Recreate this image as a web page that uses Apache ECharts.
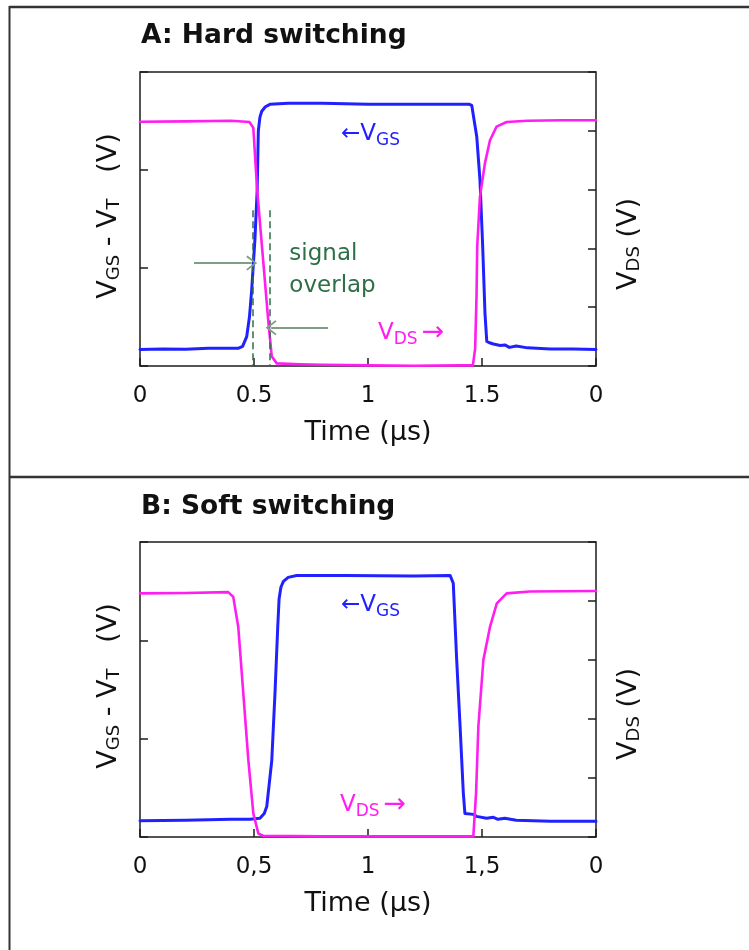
<!DOCTYPE html>
<html><head><meta charset="utf-8">
<script src="https://cdn.jsdelivr.net/npm/echarts@6/dist/echarts.min.js"></script>
<style>html,body{margin:0;padding:0;background:#fff}#c{width:749px;height:950px}</style>
</head><body><div id="c"></div>
<script>
// ---------- data ----------
const tickLabelsA = ['0', '0.5', '1', '1.5', '0'];
const tickLabelsB = ['0', '0,5', '1', '1,5', '0'];
const titleA = 'A: Hard switching';
const titleB = 'B: Soft switching';
const xName = 'Time (µs)';

// Panel A (hard switching)
const hardVgsT = [0, 0.1, 0.2, 0.3, 0.4, 0.43, 0.45, 0.468, 0.48, 0.49, 0.504, 0.514, 0.519, 0.526, 0.534, 0.55, 0.57, 0.65, 0.8, 1.0, 1.2, 1.35, 1.445, 1.455, 1.477, 1.491, 1.503, 1.513, 1.521, 1.53, 1.55, 1.58, 1.6, 1.62, 1.65, 1.7, 1.8, 1.9, 2.0];
const hardVgs  = [0.168, 0.173, 0.17, 0.18, 0.18, 0.18, 0.2, 0.30, 0.5, 0.78, 1.29, 1.80, 2.40, 2.54, 2.6, 2.645, 2.67, 2.68, 2.68, 2.67, 2.67, 2.67, 2.67, 2.66, 2.34, 1.90, 1.22, 0.54, 0.25, 0.24, 0.225, 0.21, 0.215, 0.19, 0.205, 0.185, 0.173, 0.173, 0.168];
const hardVdsT = [0, 0.2, 0.4, 0.48, 0.487, 0.497, 0.514, 0.563, 0.578, 0.6, 0.7, 0.8, 1.0, 1.2, 1.4, 1.46, 1.47, 1.476, 1.479, 1.491, 1.513, 1.535, 1.564, 1.608, 1.7, 1.85, 2.0];
const hardVds  = [4.155, 4.16, 4.17, 4.15, 4.12, 4.05, 2.99, 0.75, 0.16, 0.045, 0.03, 0.02, 0.01, 0.005, 0.01, 0.01, 0.3, 1.2, 2.03, 2.88, 3.45, 3.84, 4.07, 4.15, 4.17, 4.18, 4.18];

// Panel B (soft switching)
const softVgsT = [0, 0.2, 0.4, 0.482, 0.526, 0.545, 0.556, 0.578, 0.592, 0.604, 0.61, 0.618, 0.629, 0.65, 0.687, 0.9, 1.2, 1.36, 1.374, 1.389, 1.404, 1.418, 1.425, 1.462, 1.476, 1.52, 1.55, 1.57, 1.6, 1.65, 1.8, 2.0];
const softVgs  = [0.165, 0.17, 0.18, 0.18, 0.19, 0.24, 0.31, 0.78, 1.46, 2.13, 2.42, 2.54, 2.6, 2.64, 2.66, 2.66, 2.655, 2.66, 2.58, 1.80, 1.12, 0.45, 0.24, 0.23, 0.21, 0.19, 0.2, 0.18, 0.19, 0.17, 0.16, 0.16];
const softVdsT = [0, 0.2, 0.387, 0.409, 0.431, 0.453, 0.475, 0.497, 0.519, 0.541, 0.8, 1.2, 1.462, 1.474, 1.484, 1.506, 1.535, 1.565, 1.608, 1.71, 2.0];
const softVds  = [4.13, 4.135, 4.15, 4.07, 3.56, 2.44, 1.31, 0.40, 0.06, 0.02, 0.01, 0.01, 0.01, 0.75, 1.87, 3.0, 3.56, 3.96, 4.13, 4.16, 4.17];

// annotation anchors (data coordinates, left axis units)
const overlapEdges = [0.493, 0.567];
const overlapTop = 1.59;
const overlapArrows = [[0.237, 1.05, 0.49, 1.05], [0.825, 0.39, 0.575, 0.39]];

// ---------- chart ----------
const F = 'DejaVu Sans';
const BLUE = '#2121ff', MAG = '#ff1ef0', GREEN = '#2d7047', AGREEN = '#7e9f85', INK = '#1c1c1c';
const zip = (t, v) => t.map((x, i) => [x, v[i]]);
const chevron = 'path://M8,0 L16,10 L14.6,11.2 L8,3 L1.4,11.2 L0,10 Z';

const chart = echarts.init(document.getElementById('c'));

function mkX(gi, labels) {
  return {
    type: 'value', gridIndex: gi, min: 0, max: 2, interval: 0.5,
    axisLine: { show: false },
    axisTick: { show: true, inside: true, length: 8, lineStyle: { color: INK, width: 1.5 } },
    axisLabel: { margin: 19, fontFamily: F, fontSize: 23, color: '#111', showMinLabel: true, showMaxLabel: true,
      formatter: v => labels[Math.round(v * 2)] },
    splitLine: { show: false },
    name: xName, nameLocation: 'middle', nameGap: 53,
    nameTextStyle: { fontFamily: F, fontSize: 27, color: '#111' }
  };
}
function mkY(gi, pos, max) {
  return {
    type: 'value', gridIndex: gi, position: pos, min: 0, max: max, interval: 1,
    axisLine: { show: false },
    axisTick: { show: true, inside: true, length: 8, lineStyle: { color: INK, width: 1.5 } },
    axisLabel: { show: false }, splitLine: { show: false }
  };
}
function line(xi, yi, data, color, w, extra) {
  return Object.assign({
    type: 'line', xAxisIndex: xi, yAxisIndex: yi, data: data, showSymbol: false, symbol: 'none',
    lineStyle: { color: color, width: w, join: 'round', cap: 'round' }, itemStyle: { color: color }, animation: false, silent: true
  }, extra || {});
}

const markA = {
  silent: true, animation: false, symbol: ['none', 'none'], label: { show: false },
  data: overlapEdges.map(x => [
    { coord: [x, overlapTop], symbol: 'none', lineStyle: { type: [7, 4], color: GREEN, width: 1.5 } },
    { coord: [x, 0], symbol: 'none' }
  ]).concat(overlapArrows.map(a => [
    { coord: [a[0], a[1]], symbol: 'none', lineStyle: { type: 'solid', color: AGREEN, width: 2 } },
    { coord: [a[2], a[3]], symbol: chevron, symbolSize: [15, 11] }
  ]))
};

chart.setOption({
  animation: false,
  grid: [
    { left: 140, top: 72, width: 456, height: 294, show: true, borderColor: INK, borderWidth: 1.5 },
    { left: 140, top: 542, width: 456, height: 295, show: true, borderColor: INK, borderWidth: 1.5 }
  ],
  xAxis: [mkX(0, tickLabelsA), mkX(1, tickLabelsB)],
  yAxis: [mkY(0, 'left', 3), mkY(0, 'right', 5), mkY(1, 'left', 3), mkY(1, 'right', 5)],
  series: [
    line(0, 0, zip(hardVgsT, hardVgs), BLUE, 3, { markLine: markA }),
    line(0, 1, zip(hardVdsT, hardVds), MAG, 2.6),
    line(1, 2, zip(softVgsT, softVgs), BLUE, 3),
    line(1, 3, zip(softVdsT, softVds), MAG, 2.6)
  ]
});

// ---------- text annotations ----------
const P = (xi, yi, pt) => chart.convertToPixel({ xAxisIndex: xi, yAxisIndex: yi }, pt);
function txt(x, y, text, rich, opts) {
  return Object.assign({
    type: 'text', x: x, y: y, silent: true, z: 100,
    style: Object.assign({ text: text, rich: rich, fontFamily: F, fill: '#111', align: 'left', verticalAlign: 'middle',
      textAlign: 'left', textVerticalAlign: 'middle' }, (opts && opts.style) || {})
  }, (opts && opts.el) || {});
}
const richBlue = {
  a: { fontFamily: F, fontSize: 23, fill: BLUE },
  s: { fontFamily: F, fontSize: 17, fill: BLUE, padding: [14, 0, 0, 0] }
};
const richMag = {
  a: { fontFamily: F, fontSize: 23, fill: MAG },
  s: { fontFamily: F, fontSize: 17, fill: MAG, padding: [14, 0, 0, 0] },
  r: { fontFamily: F, fontSize: 27, fill: MAG, padding: [0, 0, 0, 4] }
};
const richAxis = {
  m: { fontFamily: F, fontSize: 27, fill: '#111' },
  s: { fontFamily: F, fontSize: 18, fill: '#111', padding: [12, 0, 0, 0] }
};
const richTitle = { t: { fontFamily: F, fontSize: 26.5, fontWeight: 'bold', fill: '#111' } };
const richGreen = { g: { fontFamily: F, fontSize: 23, fill: GREEN } };

const gA1 = P(0, 0, [0.882, 2.37]);
const dA1 = P(0, 0, [1.044, 0.337]);
const sig = P(0, 0, [0.655, 1.143]);
const ovl = P(0, 0, [0.655, 0.816]);
const gB1 = P(1, 2, [0.882, 2.36]);
const dB1 = P(1, 2, [0.877, 0.33]);

const labelL = '{m|V}{s|GS}{m| - V}{s|T}{m|   (V)}';
const labelR = '{m|V}{s|DS}{m| (V)}';
const rot = { style: { align: 'center', textAlign: 'center' }, el: { rotation: Math.PI / 2 } };

const graphics = [
  { type: 'line', silent: true, shape: { x1: 9.5, y1: 7, x2: 749, y2: 7 }, style: { stroke: '#333', lineWidth: 2.5 } },
  { type: 'line', silent: true, shape: { x1: 9.5, y1: 477, x2: 749, y2: 477 }, style: { stroke: '#333', lineWidth: 2.5 } },
  { type: 'line', silent: true, shape: { x1: 9.5, y1: 6, x2: 9.5, y2: 950 }, style: { stroke: '#333', lineWidth: 2 } },
  txt(141, 36.5, '{t|' + titleA + '}', richTitle),
  txt(141, 507.5, '{t|' + titleB + '}', richTitle),
  txt(108.5, 216, labelL, richAxis, rot),
  txt(628.5, 244, labelR, richAxis, rot),
  txt(108.5, 686, labelL, richAxis, rot),
  txt(628.5, 714, labelR, richAxis, rot),
  txt(gA1[0], gA1[1], '{a|←V}{s|GS}', richBlue),
  txt(dA1[0], dA1[1], '{a|V}{s|DS}{r|→}', richMag),
  txt(gB1[0], gB1[1], '{a|←V}{s|GS}', richBlue),
  txt(dB1[0], dB1[1], '{a|V}{s|DS}{r|→}', richMag),
  txt(sig[0], sig[1], '{g|signal}', richGreen),
  txt(ovl[0], ovl[1], '{g|overlap}', richGreen)
];
chart.setOption({ graphic: graphics });
</script></body></html>
